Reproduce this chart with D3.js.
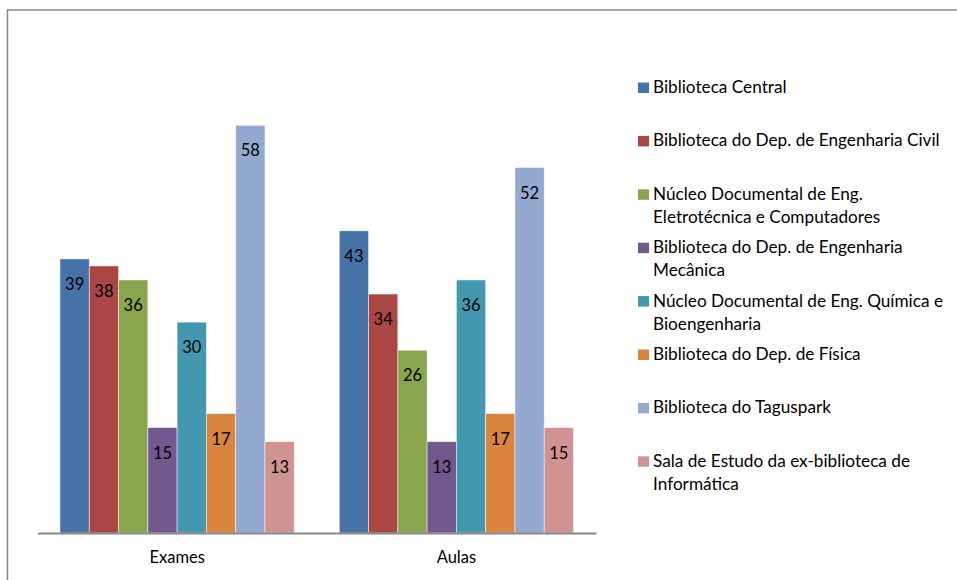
<!DOCTYPE html>
<html>
<head>
<meta charset="utf-8">
<script src="https://cdn.jsdelivr.net/npm/d3@7"></script>
<style>
  body { margin: 0; background: #fff; }
  svg { display: block; font-family: Lato, "Open Sans", sans-serif; }
</style>
</head>
<body>
<div id="chart"></div>
<script>
// categories and series
const categories = ["Exames", "Aulas"];
const seriesNames = [
  "Biblioteca Central",
  "Biblioteca do Dep. de Engenharia Civil",
  "Núcleo Documental de Eng.\nEletrotécnica e Computadores",
  "Biblioteca do Dep. de Engenharia\nMecânica",
  "Núcleo Documental de Eng. Química e\nBioengenharia",
  "Biblioteca do Dep. de Física",
  "Biblioteca do Taguspark",
  "Sala de Estudo da ex-biblioteca de\nInformática"
];
const exames = [39, 38, 36, 15, 30, 17, 58, 13];
const aulas = [43, 34, 26, 13, 36, 17, 52, 15];
const colors = ["#4572A7", "#AA4643", "#89A54E", "#71588F", "#4198AF", "#DB843D", "#93A9CF", "#D19392"];

const w = 957, h = 580;
const values = [exames, aulas];

const svg = d3.select("#chart").append("svg")
  .attr("width", w)
  .attr("height", h);

// outer frame
svg.append("rect")
  .attr("x", 7.5).attr("y", 10)
  .attr("width", 970).attr("height", 600)
  .attr("fill", "none")
  .attr("stroke", "#878787")
  .attr("stroke-width", 1.5);

// scales
const x0 = d3.scaleBand()
  .domain(categories)
  .range([37.5, 596])
  .paddingInner(0.1613)
  .paddingOuter(0.0806);

const x1 = d3.scaleBand()
  .domain(d3.range(seriesNames.length))
  .range([0, x0.bandwidth()]);

const y = d3.scaleLinear()
  .domain([0, 70])
  .range([533, 41]);

// bars
const groups = svg.selectAll("g.cat")
  .data(categories)
  .enter()
  .append("g")
  .attr("class", "cat")
  .attr("transform", d => "translate(" + x0(d) + ",0)");

groups.each(function(cat, ci) {
  const g = d3.select(this);
  const data = values[ci].map((v, i) => ({ v: v, i: i }));

  g.selectAll("rect")
    .data(data)
    .enter()
    .append("rect")
    .attr("x", d => x1(d.i))
    .attr("y", d => y(d.v))
    .attr("width", x1.bandwidth())
    .attr("height", d => y(0) - y(d.v))
    .attr("fill", d => colors[d.i])
    .attr("stroke", "#ffffff")
    .attr("stroke-opacity", 0.6)
    .attr("stroke-width", 0.8);

  g.selectAll("text")
    .data(data)
    .enter()
    .append("text")
    .attr("x", d => x1(d.i) + x1.bandwidth() / 2)
    .attr("y", d => y(d.v) + 31)
    .attr("text-anchor", "middle")
    .attr("font-size", "16.5px")
    .attr("fill", "#000")
    .text(d => d.v);
});

// x axis
const xAxis = d3.axisBottom(x0).tickSize(0).tickPadding(18);
const ax = svg.append("g")
  .attr("transform", "translate(0," + y(0) + ")")
  .call(xAxis);
ax.select(".domain").attr("stroke", "#878787").attr("stroke-width", 2);
ax.selectAll("text")
  .attr("font-size", "16.5px")
  .attr("font-family", "Lato, 'Open Sans', sans-serif")
  .attr("fill", "#000");

// legend
const legend = svg.append("g");
seriesNames.forEach((name, i) => {
  const by = 93 + i * 53.4;
  legend.append("rect")
    .attr("x", 638)
    .attr("y", by - 10.5)
    .attr("width", 11)
    .attr("height", 10.5)
    .attr("fill", colors[i]);
  const t = legend.append("text")
    .attr("x", 653)
    .attr("y", by)
    .attr("font-size", "17.2px")
    .attr("fill", "#000");
  name.split("\n").forEach((line, li) => {
    t.append("tspan")
      .attr("x", 653)
      .attr("dy", li === 0 ? 0 : 23)
      .text(line);
  });
});
</script>
</body>
</html>
